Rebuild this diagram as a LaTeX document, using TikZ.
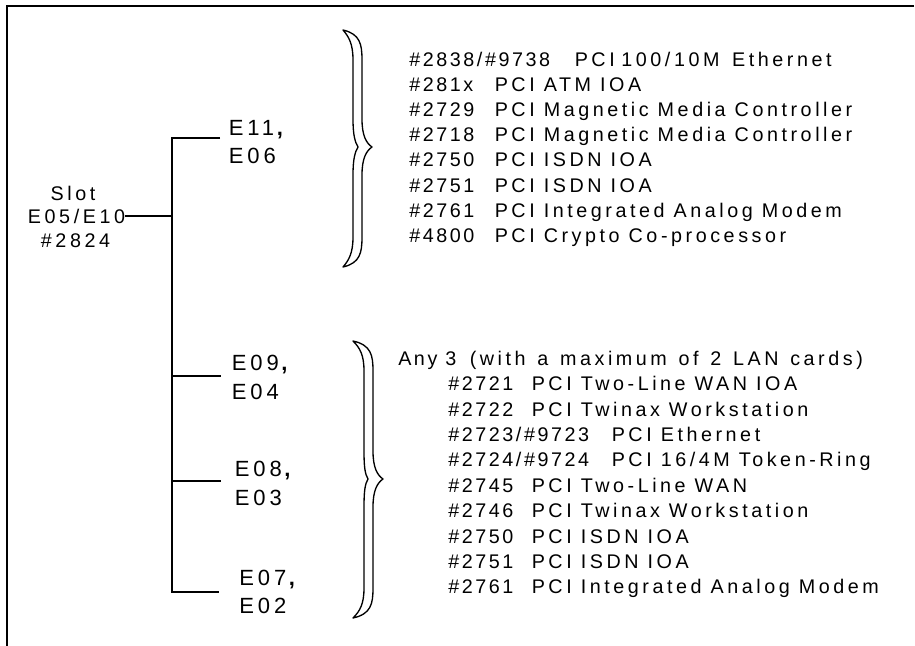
\documentclass[tikz,border=0pt]{standalone}
\usepackage{fontspec}
\newfontfamily\lsp[LetterSpace=18]{Liberation Sans}
\newfontfamily\lspn[LetterSpace=13]{Liberation Sans}
\newcommand\drawbrace[8]{% xe, ytop, ybot, ymid, xleft, xright, tip inner, tip outer
  \draw[bracefill] (#1,#2) .. controls (#6-2,#2+4) and (#6,#2+14) .. (#6,#2+30)
    -- (#6,#4-28) .. controls (#6,#4-12) and (#8-6,#4-4) .. (#8,#4)
    .. controls (#8-6,#4+4) and (#6,#4+12) .. (#6,#4+28)
    -- (#6,#3-30) .. controls (#6,#3-14) and (#6-2,#3-4) .. (#1,#3)
    .. controls (#5-4,#3-7) and (#5,#3-14) .. (#5,#3-30)
    -- (#5,#4+28) .. controls (#5,#4+12) and (#7-3,#4+5) .. (#7,#4)
    .. controls (#7-3,#4-5) and (#5,#4-12) .. (#5,#4-28)
    -- (#5,#2+30) .. controls (#5,#2+14) and (#5-4,#2+7) .. (#1,#2) -- cycle;}
\newcommand\ecomma{\hspace{2pt}{\bfseries ,}}
\begin{document}
\begin{tikzpicture}[x=0.75pt,y=-0.75pt,
  txt/.style={font=\lsp\fontsize{14.8}{16}\selectfont, inner sep=0pt, anchor=base west},
  ntxt/.style={txt, font=\lspn\fontsize{14.8}{16}\selectfont},
  ctxt/.style={txt, anchor=base},
  etxt/.style={txt, font=\lsp\fontsize{16.5}{18}\selectfont},
  wire/.style={line width=1.1pt},
  frame/.style={line width=1.5pt},
  bracefill/.style={draw, line width=1pt, fill=white, line join=round}]
\useasboundingbox (0,0) rectangle (915,646);
% frame
\draw[frame] (914,6) -- (7,6) -- (7,646);
% slot label
\node[ctxt] (slot) at (73,200) {Slot};
\node[ctxt] (e0510) at (76.5,223) {E05/E10};
\node[ctxt] (n2824) at (75.5,247) {\#2824};
% trunk
\coordinate (j0) at (172,216);
\coordinate (jt) at (172,138);
\coordinate (j1) at (172,376);
\coordinate (j2) at (172,481);
\coordinate (jb) at (172,592);
\coordinate (b1) at (220,138);
\coordinate (b2) at (221,376);
\coordinate (b3) at (221,481);
\coordinate (b4) at (219,592);
\draw[wire] (e0510.east |- j0) -- (j0);
\draw[wire] (b1) -- (jt) -- (jb) -- (b4);
\draw[wire] (j1) -- (b2);
\draw[wire] (j2) -- (b3);
% E labels
\node[etxt] (e11) at (228.5,135) {E11\ecomma};
\node[etxt] (e06) at (228.5,163) {E06};
\node[etxt] (e09) at (231.5,370.7) {E09\ecomma};
\node[etxt] (e04) at (231.5,399.3) {E04};
\node[etxt] (e08) at (234.5,476.7) {E08\ecomma};
\node[etxt] (e03) at (234.5,505) {E03};
\node[etxt] (e07) at (239,585) {E07\ecomma};
\node[etxt] (e02) at (239,613.3) {E02};
% braces
\drawbrace{343}{30}{267}{147}{353}{362}{358}{372}
\drawbrace{353}{341}{618}{479}{364}{373}{368}{383}
% list 1
\node[ntxt] (a1n) at (409,66.5) {\#2838/\#9738};
\node[txt] (a1) at (574.5,66.5) {PCI\hspace{5pt}100/10M\hspace{9.5pt}Ethernet};
\node[ntxt] (a2n) at (409,91.6) {\#281x};
\node[txt] (a2) at (494.5,91.6) {PCI ATM IOA};
\node[ntxt] (a3n) at (409,116.7) {\#2729};
\node[txt] (a3) at (494.5,116.7) {PCI Magnetic Media Controller};
\node[ntxt] (a4n) at (409,141.8) {\#2718};
\node[txt] (a4) at (494.5,141.8) {PCI Magnetic Media Controller};
\node[ntxt] (a5n) at (409,166.9) {\#2750};
\node[txt] (a5) at (494.5,166.9) {PCI ISDN IOA};
\node[ntxt] (a6n) at (409,192) {\#2751};
\node[txt] (a6) at (494.5,192) {PCI ISDN IOA};
\node[ntxt] (a7n) at (409,217.1) {\#2761};
\node[txt] (a7) at (494.5,217.1) {PCI Integrated Analog Modem};
\node[ntxt] (a8n) at (409,242.2) {\#4800};
\node[txt] (a8) at (494.5,242.2) {PCI Crypto Co-processor};
% list 2
\node[ntxt] (any) at (398,365.7) {Any 3};
\node[txt] (anyb) at (469.5,365.7) {\spaceskip=8.8pt (with a maximum of 2 LAN cards)};
\node[ntxt] (c1n) at (448,390.7) {\#2721};
\node[txt] (c1) at (531.5,390.7) {PCI Two-Line WAN IOA};
\node[ntxt] (c2n) at (448,416.1) {\#2722};
\node[txt] (c2) at (531.5,416.1) {PCI Twinax Workstation};
\node[ntxt] (c3n) at (448,441.5) {\#2723/\#9723};
\node[txt] (c3) at (611.5,441.5) {PCI Ethernet};
\node[ntxt] (c4n) at (448,466.9) {\#2724/\#9724};
\node[txt] (c4) at (611.5,466.9) {PCI 16/4M Token-Ring};
\node[ntxt] (c5n) at (448,492.3) {\#2745};
\node[txt] (c5) at (531.5,492.3) {PCI Two-Line WAN};
\node[ntxt] (c6n) at (448,517.7) {\#2746};
\node[txt] (c6) at (531.5,517.7) {PCI Twinax Workstation};
\node[ntxt] (c7n) at (448,543.1) {\#2750};
\node[txt] (c7) at (531.5,543.1) {PCI ISDN IOA};
\node[ntxt] (c8n) at (448,568.5) {\#2751};
\node[txt] (c8) at (531.5,568.5) {PCI ISDN IOA};
\node[ntxt] (c9n) at (448,593.9) {\#2761};
\node[txt] (c9) at (531.5,593.9) {PCI Integrated Analog Modem};
\end{tikzpicture}
\end{document}
